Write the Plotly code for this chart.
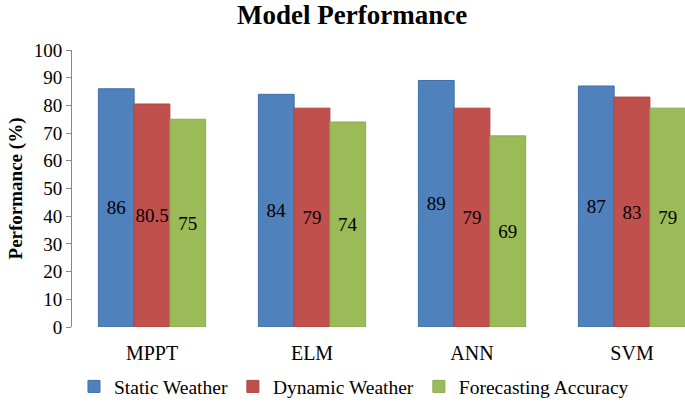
import plotly.graph_objects as go

categories = ["MPPT", "ELM", "ANN", "SVM"]
static_weather = [86, 84, 89, 87]
dynamic_weather = [80.5, 79, 79, 83]
forecasting_accuracy = [75, 74, 69, 79]
y_ticks = [0, 10, 20, 30, 40, 50, 60, 70, 80, 90, 100]

series = [
    ("Static Weather", static_weather, "#4F81BD", "#3F6FA8"),
    ("Dynamic Weather", dynamic_weather, "#C0504D", "#B04440"),
    ("Forecasting Accuracy", forecasting_accuracy, "#9BBB59", "#8AAA48"),
]

font_family = "Liberation Serif, Times New Roman, serif"

fig = go.Figure()
for name, vals, col, edge in series:
    fig.add_trace(go.Bar(
        x=categories, y=vals, name=name,
        marker=dict(color=col, line=dict(color=edge, width=1)),
        text=[str(v) for v in vals],
        textposition="inside",
        insidetextanchor="middle",
        constraintext="none",
        textangle=0,
        textfont=dict(family=font_family, size=19, color="black"),
    ))

fig.update_layout(
    width=685, height=402,
    margin=dict(l=72, r=0, t=50, b=75, autoexpand=False),
    paper_bgcolor="white", plot_bgcolor="white",
    barmode="group", bargap=0.33, bargroupgap=0,
    title=dict(text="<b>Model Performance</b>", x=0.514, xanchor="center",
               y=0.988, yanchor="top",
               font=dict(family=font_family, size=27, color="black")),
    font=dict(family=font_family, color="black"),
    showlegend=True,
    legend=dict(orientation="h", x=0.46, xanchor="center",
                yref="container", y=0.038, yanchor="middle",
                font=dict(family=font_family, size=19.5, color="black"),
                traceorder="normal", itemwidth=30),
    xaxis=dict(range=[-0.5, 3.331], showline=False, ticks="",
               tickfont=dict(family=font_family, size=20, color="black"),
               ticklabelstandoff=12, automargin=False,
               showgrid=False),
    yaxis=dict(range=[0, 100], tickvals=y_ticks, showline=True,
               linecolor="#868686", linewidth=1, ticks="outside",
               ticklen=5, tickcolor="#868686", showgrid=False,
               zeroline=False, automargin=False,
               tickfont=dict(family=font_family, size=19, color="black"),
               title=dict(text="<b>Performance (%)</b>", standoff=6,
                          font=dict(family=font_family, size=19, color="black"))),
)

fig.write_html("out.html", config={"displayModeBar": False},
               post_script="document.body.style.margin='0';document.body.style.padding='0';")
